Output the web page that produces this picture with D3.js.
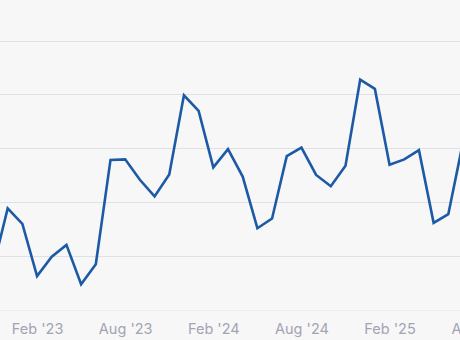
<!DOCTYPE html>
<html>
<head>
<meta charset="utf-8">
<script src="https://cdn.jsdelivr.net/npm/d3@7"></script>
<style>
  html, body { margin: 0; padding: 0; background: #f7f7f8; }
  svg { display: block; }
</style>
</head>
<body>
<svg id="chart" width="460" height="340"></svg>
<script>
// Monthly series, Nov '22 .. Jul '25
const months = ["Nov '22","Dec '22","Jan '23","Feb '23","Mar '23","Apr '23","May '23","Jun '23","Jul '23","Aug '23","Sep '23","Oct '23","Nov '23","Dec '23","Jan '24","Feb '24","Mar '24","Apr '24","May '24","Jun '24","Jul '24","Aug '24","Sep '24","Oct '24","Nov '24","Dec '24","Jan '25","Feb '25","Mar '25","Apr '25","May '25","Jun '25","Jul '25"];
const values = [78,189,160,63,99,121,48,85,279,280,242,211,252,399,370,265,299,248,152,170,286,302,251,230,268,428,411,270,280,297,162,178,312];
const tickIndex = [3, 9, 15, 21, 27, 33];
const tickLabels = ["Feb '23","Aug '23","Feb '24","Aug '24","Feb '25","Aug '25"];
const gridValues = [0, 100, 200, 300, 400, 500];

const svg = d3.select("#chart");
const W = 460, H = 340;

const x = d3.scaleLinear().domain([0, months.length - 1]).range([-7, 463]);
const y = d3.scaleLinear().domain([0, 500]).range([310, 41]);

// gridlines
svg.append("g")
  .selectAll("line")
  .data(gridValues)
  .join("line")
  .attr("x1", 0).attr("x2", W)
  .attr("y1", d => Math.floor(y(d)) + 0.5)
  .attr("y2", d => Math.floor(y(d)) + 0.5)
  .attr("stroke", d => d === 0 ? "#ededf0" : "#e0e1e7")
  .attr("stroke-width", 1);

// x axis labels
const axis = d3.axisBottom(x)
  .tickValues(tickIndex)
  .tickFormat((d, i) => tickLabels[i])
  .tickSize(0)
  .tickPadding(0);

const gx = svg.append("g")
  .attr("transform", "translate(0,334)")
  .call(axis);
gx.select(".domain").remove();
gx.selectAll("text")
  .attr("fill", "#a2a3b3")
  .attr("font-family", "Inter, 'Noto Sans', sans-serif")
  .attr("font-size", "14.5px")
  .attr("y", 0)
  .attr("dy", 0);

// line
const line = d3.line()
  .x((d, i) => x(i))
  .y(d => y(d));

svg.append("path")
  .datum(values)
  .attr("fill", "none")
  .attr("stroke", "#1c5aa6")
  .attr("stroke-width", 2.6)
  .attr("stroke-linejoin", "miter")
  .attr("d", line);
</script>
</body>
</html>
